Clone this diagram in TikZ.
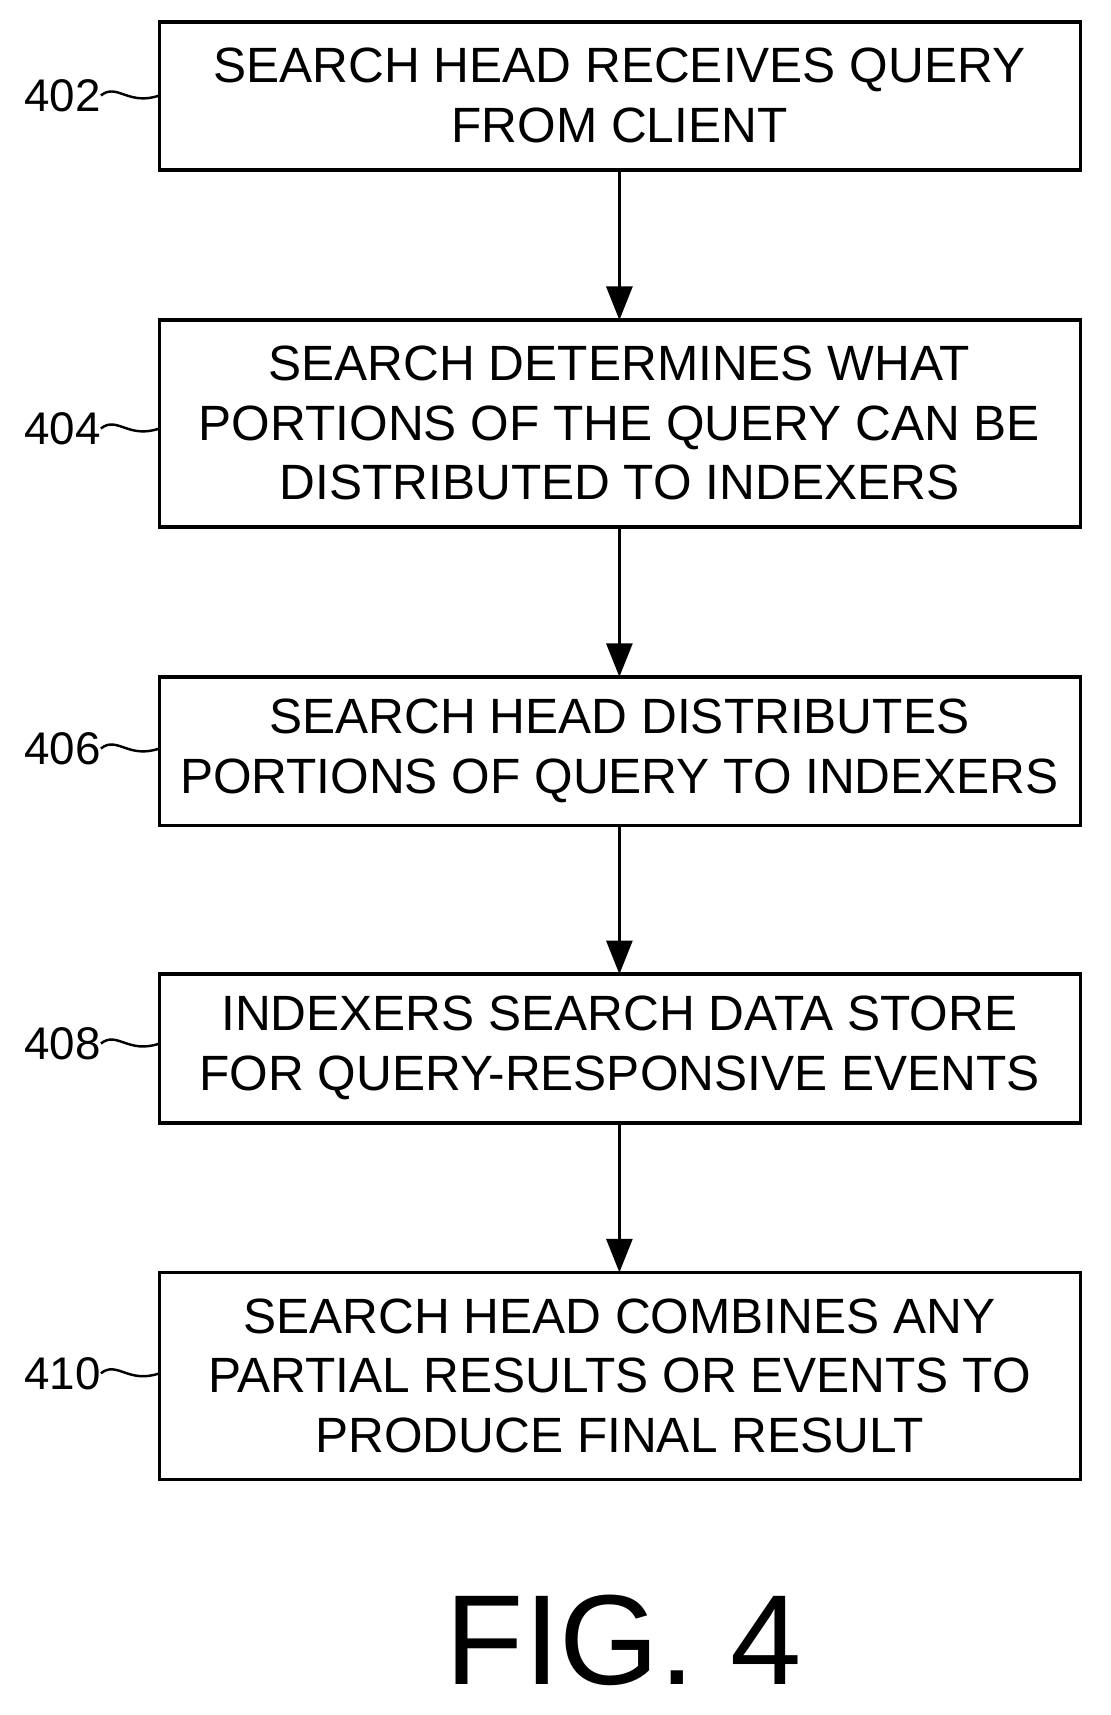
\documentclass[tikz,border=0pt]{standalone}
\usepackage{fontspec}
\setmainfont{Liberation Sans}
\usetikzlibrary{arrows.meta}
\begin{document}
\begin{tikzpicture}[x=0.025cm,y=-0.025cm,
  box/.style={inner sep=0pt,align=center,font=\fontsize{32.5}{39}\selectfont},
  lab/.style={font=\fontsize{30}{32}\selectfont,anchor=east,inner sep=0pt},
  arr/.style={line width=2pt,-{Triangle[length=22pt,width=17pt]}},
  sq/.style={line width=1.6pt}]
\useasboundingbox (0,0) rectangle (1024,1581);
\foreach \n/\t/\b in {a/20/157,b/295/486,c/624/761,d/898/1035,e/1173/1364}{
  \draw[line width=2.4pt] (147,\t) rectangle (996,\b);
  \coordinate (\n-n) at (571,\t); \coordinate (\n-s) at (571,\b);
  \coordinate (\n-w) at (147,{(\t+\b)/2});}
\node[box] (ta) at (571,88) {SEARCH HEAD RECEIVES QUERY\\FROM CLIENT};
\node[box] (tb) at (571,390) {SEARCH DETERMINES WHAT\\PORTIONS OF THE QUERY CAN BE\\DISTRIBUTED TO INDEXERS};
\node[box] (tc) at (571,692) {SEARCH HEAD DISTRIBUTES\\PORTIONS OF QUERY TO INDEXERS};
\node[box] (td) at (571,966) {INDEXERS SEARCH DATA STORE\\FOR QUERY-RESPONSIVE EVENTS};
\node[box] (te) at (571,1268) {SEARCH HEAD COMBINES ANY\\PARTIAL RESULTS OR EVENTS TO\\PRODUCE FINAL RESULT};
\draw[arr] (a-s) -- (b-n);
\draw[arr] (b-s) -- (c-n);
\draw[arr] (c-s) -- (d-n);
\draw[arr] (d-s) -- (e-n);
\foreach \n/\l/\y in {a/402/88,b/404/395,c/406/690,d/408/962,e/410/1266}{
  \node[lab] (l\n) at (93,\y) {\l};
  \draw[sq] (l\n.east) .. controls (108,\y-12) and (118,\y+10) .. (\n-w |- 0,\y);}
\node[font=\fontsize{84}{84}\selectfont,inner sep=0pt] (fig) at (575,1512) {FIG. 4};
\end{tikzpicture}
\end{document}
